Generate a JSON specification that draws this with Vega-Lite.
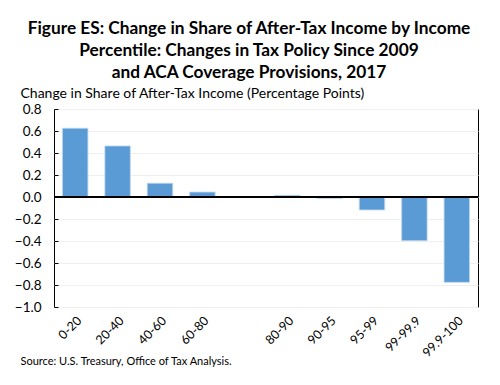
{
  "$schema": "https://vega.github.io/schema/vega-lite/v6.json",
  "width": 424,
  "height": 198,
  "autosize": "none",
  "padding": {"left": 54, "top": 109, "right": 22, "bottom": 78},
  "background": "white",
  "title": {
    "text": ["Figure ES: Change in Share of After-Tax Income by Income", "Percentile: Changes in Tax Policy Since 2009", "and ACA Coverage Provisions, 2017"],
    "font": "Lato",
    "fontSize": 17.3,
    "fontWeight": "bold",
    "color": "black",
    "lineHeight": 22,
    "anchor": "middle",
    "dx": -17,
    "offset": 5
  },
  "data": {
    "values": [
      {"group": "0-20", "value": 0.625},
      {"group": "20-40", "value": 0.464},
      {"group": "40-60", "value": 0.125},
      {"group": "60-80", "value": 0.045},
      {"group": "80-90", "value": 0.015},
      {"group": "90-95", "value": -0.012},
      {"group": "95-99", "value": -0.118},
      {"group": "99-99.9", "value": -0.397},
      {"group": "99.9-100", "value": -0.776}
    ]
  },
  "config": {
    "view": {"stroke": "black", "strokeWidth": 1},
    "font": "Lato",
    "axis": {"labelOverlap": false, "labelBound": false, "labelFlush": false}
  },
  "layer": [
    {
      "mark": {"type": "bar", "color": "#5B9BD5", "stroke": "#BDD7EE", "strokeWidth": 0.8},
      "encoding": {
        "x": {
          "field": "group",
          "type": "nominal",
          "sort": null,
          "scale": {
            "domain": ["0-20", "20-40", "40-60", "60-80", " ", "80-90", "90-95", "95-99", "99-99.9", "99.9-100"],
            "paddingInner": 0.4,
            "paddingOuter": 0.2
          },
          "axis": {
            "title": "Source: U.S. Treasury, Office of Tax Analysis.",
            "titleFont": "Lato",
            "titleFontSize": 11,
            "titleFontWeight": "normal",
            "titleColor": "black",
            "titleAngle": 0,
            "titleAlign": "left",
            "titleAnchor": "start",
            "titleBaseline": "alphabetic",
            "titleX": -34,
            "titleY": 57,
            "labelAngle": -45,
            "labelAlign": "right",
            "labelBaseline": "top",
            "labelFontSize": 12.5,
            "labelColor": "black",
            "labelPadding": 7,
            "ticks": false,
            "domain": false,
            "grid": false
          }
        },
        "y": {
          "field": "value",
          "type": "quantitative",
          "scale": {"domain": [-1, 0.8], "nice": false, "zero": false},
          "axis": {
            "values": [-1, -0.8, -0.6, -0.4, -0.2, 0, 0.2, 0.4, 0.6, 0.8],
            "tickCount": 10,
            "format": ".1f",
            "title": "Change in Share of After-Tax Income (Percentage Points)",
            "titleFont": "Lato",
            "titleFontSize": 14,
            "titleFontWeight": "normal",
            "titleColor": "black",
            "titleAngle": 0,
            "titleAlign": "left",
            "titleBaseline": "alphabetic",
            "titleX": -34,
            "titleY": -12,
            "labelFontSize": 13.5,
            "labelColor": "black",
            "labelPadding": 17,
            "ticks": true,
            "tickSize": -4,
            "tickColor": "black",
            "tickWidth": 1,
            "domain": false,
            "grid": true,
            "gridColor": "#EFEFEF",
            "gridWidth": 1
          }
        }
      }
    },
    {
      "mark": {"type": "rule", "color": "black", "strokeWidth": 1.2},
      "encoding": {"y": {"datum": 0, "type": "quantitative"}}
    }
  ]
}
